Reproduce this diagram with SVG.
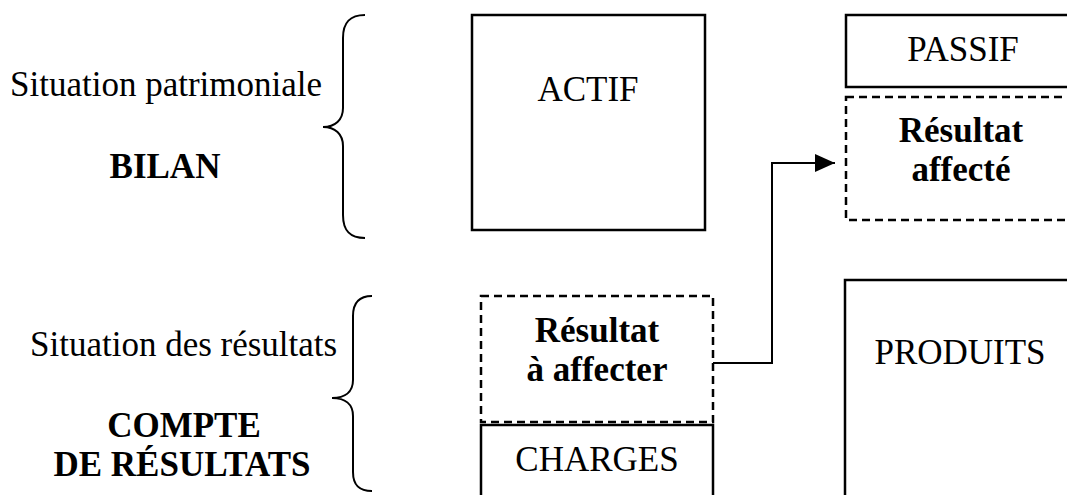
<svg xmlns="http://www.w3.org/2000/svg" width="1067" height="495" viewBox="0 0 1067 495">
<style>
text{font-family:"Liberation Serif","Times New Roman",serif;fill:#000;}
.n{font-size:35px;}
.b{font-size:35px;font-weight:bold;}
.c{text-anchor:middle;}
.box{fill:#fff;stroke:#000;stroke-width:2.5;}
.dash{fill:#fff;stroke:#000;stroke-width:2.5;stroke-dasharray:8 5;}
.brace{fill:none;stroke:#000;stroke-width:2;}
.conn{fill:none;stroke:#000;stroke-width:2;}
</style>
<defs>
<marker id="arr" markerWidth="20" markerHeight="18" refX="20" refY="9" orient="auto" markerUnits="userSpaceOnUse" viewBox="0 0 20 18">
<path d="M0,0 L20,9 L0,18 Z" fill="#000"/>
</marker>
</defs>
<rect width="1067" height="495" fill="#fff"/>
<g id="label-bilan">
<text class="n" x="10" y="96">Situation patrimoniale</text>
<text class="b c" x="165" y="178">BILAN</text>
<path class="brace" d="M365,15 C350,15 343,22 343,38 L343,108 C343,120 335,127 323,127 C335,127 343,134 343,146 L343,215 C343,231 350,238 365,238"/>
</g>
<g id="label-compte">
<text class="n" x="30" y="356">Situation des résultats</text>
<text class="b c" x="184" y="437">COMPTE</text>
<text class="b c" x="182" y="476">DE RÉSULTATS</text>
<path class="brace" d="M372,296 C360,296 353,302 353,316 L353,380 C353,392 345,398 332,398 C345,398 353,404 353,416 L353,472 C353,486 360,491 372,491"/>
</g>
<g id="actif">
<rect class="box" x="472" y="15" width="233" height="215"/>
<text class="n c" x="588" y="101">ACTIF</text>
</g>
<g id="passif">
<rect class="box" x="846" y="15" width="230" height="72"/>
<text class="n c" x="963" y="61">PASSIF</text>
</g>
<g id="resultat-affecte">
<rect class="dash" x="846" y="97" width="230" height="123"/>
<text class="b c" x="961" y="142">Résultat</text>
<text class="b c" x="961" y="181">affecté</text>
</g>
<g id="resultat-a-affecter">
<rect class="dash" x="481" y="296" width="232" height="126"/>
<text class="b c" x="597" y="342">Résultat</text>
<text class="b c" x="597" y="381">à affecter</text>
</g>
<g id="charges">
<rect class="box" x="481" y="425" width="232" height="80"/>
<text class="n c" x="597" y="471">CHARGES</text>
</g>
<g id="produits">
<rect class="box" x="845" y="280" width="230" height="230"/>
<text class="n c" x="960" y="364">PRODUITS</text>
</g>
<g id="connectors">
<polyline class="conn" points="713,363 772,363 772,163 835,163" marker-end="url(#arr)"/>
</g>
</svg>
